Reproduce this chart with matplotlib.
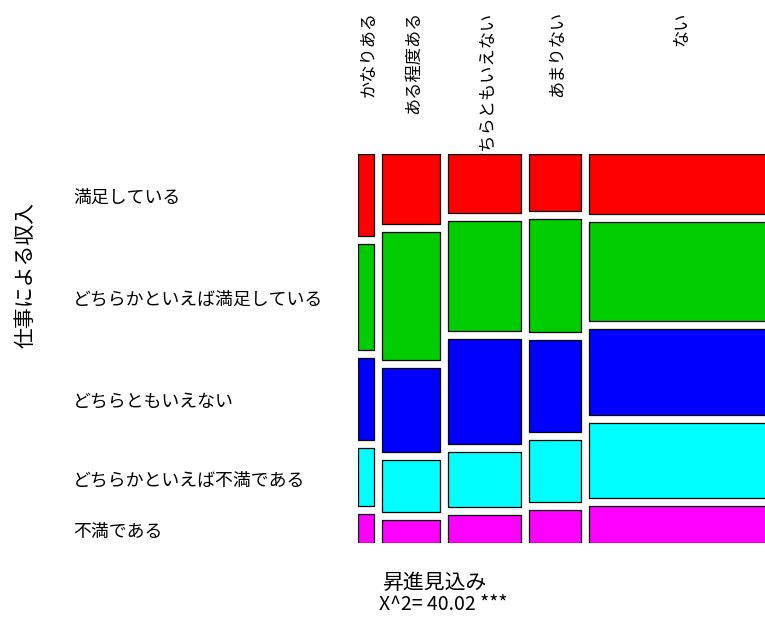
import numpy as np
import matplotlib
matplotlib.use('Agg')
import matplotlib.pyplot as plt
from matplotlib.patches import Rectangle
from matplotlib.transforms import blended_transform_factory, ScaledTranslation

plt.rcParams['font.family'] = ['Noto Sans CJK JP', 'DejaVu Sans']

# 昇進見込み (columns, left to right)
shoshin = ['かなりある', 'ある程度ある', 'どちらともいえない', 'あまりない', 'ない']
# 仕事による収入 (rows, top to bottom)
shunyu = ['満足している', 'どちらかといえば満足している', 'どちらともいえない',
          'どちらかといえば不満である', '不満である']
# counts per column (rows top to bottom)
kanari = [31, 40, 31, 22, 11]
aru_teido = [95, 173, 114, 70, 32]
dochira = [102, 189, 181, 95, 49]
amari = [71, 141, 114, 78, 41]
nai = [255, 421, 365, 319, 160]
colores = ['#FF0000', '#00CD00', '#0000FF', '#00FFFF', '#FF00FF']

tabla = np.array([kanari, aru_teido, dochira, amari, nai], dtype=float)
W, H = 765, 620
fs = 12.9

fig = plt.figure(figsize=(W / 100, H / 100), dpi=100)
gx, gy = 0.021, 0.0224   # gaps between tiles
ax = fig.add_axes([358.3 / W, (H - 543.3) / H, 411 / W, 389.3 / H])
ax.set_xlim(0, 1 + 4 * gx); ax.set_ylim(1 + 4 * gy, 0)
ax.axis('off')

# small pixel nudges so the text sits like the original
abajo = ScaledTranslation(0, -3 / 100, fig.dpi_scale_trans)
derecha = ScaledTranslation(2 / 100, 0, fig.dpi_scale_trans)

col_tot = tabla.sum(axis=1)
col_w = col_tot / col_tot.sum()
x = 0.0
centros_x = []
for j, fila in enumerate(tabla):
    alturas = fila / fila.sum()
    y = 0.0
    for i, h in enumerate(alturas):
        ax.add_patch(Rectangle((x, y), col_w[j], h, facecolor=colores[i],
                               edgecolor='black', lw=0.9, zorder=2))
        if j == 0:   # row labels sit at the first column's tiles
            tr = blended_transform_factory(fig.transFigure, ax.transData) + abajo
            ax.text(73 / W, y + h / 2, shunyu[i], transform=tr, ha='left',
                    va='center', fontsize=fs, clip_on=False)
        y += h + gy
    centros_x.append(x + col_w[j] / 2)
    x += col_w[j] + gx

# column labels, drawn under the tiles
tr = blended_transform_factory(ax.transData, fig.transFigure) + derecha
for cx, lab in zip(centros_x, shoshin):
    ax.text(cx, 1 - 11 / H, lab, transform=tr, rotation=90, ha='center',
            va='top', fontsize=12.4, clip_on=False, zorder=1)

fig.text(26 / W, 1 - 275 / H, '仕事による収入', rotation=90, ha='center',
         va='center', fontsize=15)
fig.text(434.5 / W, 1 - 583 / H, '昇進見込み', ha='center', va='center', fontsize=15)
fig.text(443 / W, 1 - 605 / H, 'X^2= 40.02 ***', ha='center', va='center', fontsize=14)

fig.savefig('out.png', dpi=100)
